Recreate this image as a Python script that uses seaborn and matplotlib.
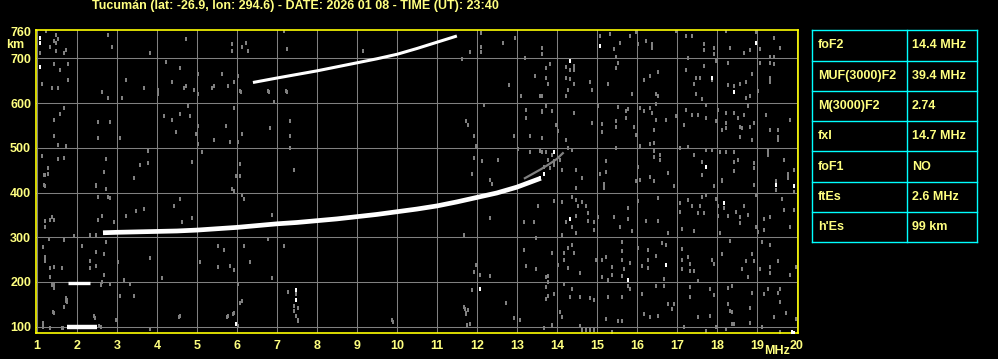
import matplotlib
matplotlib.use('Agg')
import matplotlib.pyplot as plt
import pandas as pd
import seaborn as sns

# ionogram traces (MHz, km)
f2_freq = [2.65, 3.0, 3.5, 4.0, 4.5, 5.0, 5.5, 6.0, 6.5, 7.0, 7.5, 8.0,
           8.5, 9.0, 9.5, 10.0, 10.5, 11.0, 11.5, 12.0, 12.5, 13.0, 13.3, 13.6]
f2_height = [310, 311, 312, 313, 314, 316, 319, 322, 326, 330, 333, 337,
             341, 346, 351, 357, 363, 370, 379, 389, 399, 412, 422, 432]
f2_tail_freq = [13.2, 13.4, 13.6, 13.8, 14.0, 14.15]
f2_tail_height = [432, 442, 452, 463, 475, 488]
hop2_freq = [6.4, 7.0, 7.5, 8.0, 8.5, 9.0, 9.5, 10.0, 10.5, 11.0, 11.5]
hop2_height = [646, 656, 664, 672, 681, 690, 699, 709, 722, 736, 750]
es_freq = [1.75, 2.0, 2.25, 2.5]
es_height = [100, 100, 100, 100]
es2_freq = [1.78, 2.05, 2.32]
es2_height = [197, 197, 197]

# isolated bright echoes
white_dots = [(1.08, 745), (1.08, 734), (1.08, 680), (15.08, 728), (18.98, 735),
              (14.33, 693), (17.88, 657), (18.43, 625), (13.93, 490), (13.68, 441),
              (13.58, 433), (17.73, 456), (14.33, 340), (18.18, 376), (19.93, 414),
              (19.48, 416), (16.73, 237), (15.78, 205), (19.88, 87), (12.08, 184),
              (7.48, 183), (7.48, 160), (5.98, 106), (19.93, 86)]

# background noise echoes
gray_upper_left = [
    (1.08, 712), (1.23, 762), (1.48, 753), (1.43, 739), (1.53, 744), (1.48, 735),
    (1.33, 726), (1.48, 717), (1.73, 719), (1.68, 713), (2.78, 753), (2.88, 726),
    (3.83, 713), (4.73, 744), (5.88, 731), (5.88, 717), (6.23, 735), (6.13, 726),
    (6.28, 717), (1.43, 688), (1.78, 688), (1.58, 675), (1.78, 652), (1.13, 643),
    (1.38, 634), (1.53, 634), (2.63, 625), (2.78, 611), (3.13, 611), (3.23, 652),
    (3.68, 634), (4.03, 630), (4.03, 620), (4.23, 692), (4.38, 647), (4.58, 678),
    (4.68, 634), (4.73, 639), (4.93, 629), (5.03, 665), (5.03, 620), (5.38, 634),
    (5.43, 639), (5.63, 665), (5.78, 639), (5.93, 647), (6.03, 660), (6.08, 626),
    (6.78, 626), (6.93, 602), (1.68, 589), (1.58, 576), (1.43, 562), (1.43, 527),
    (1.53, 506), (1.73, 503), (2.53, 558), (2.83, 558), (2.53, 522), (3.08, 522),
    (4.18, 570), (4.38, 562), (4.58, 576), (4.78, 593), (4.83, 571), (4.48, 535),
    (5.03, 549), (4.98, 531), (5.03, 509), (5.43, 517), (5.73, 549), (5.83, 513),
    (6.03, 513), (6.13, 531), (5.93, 590), (6.83, 544), (1.13, 482), (1.28, 455),
    (1.18, 440), (1.28, 441), (1.53, 474), (1.68, 477), (1.18, 416), (2.73, 474),
    (2.68, 446), (2.48, 416), (3.43, 433), (3.58, 461), (3.78, 492), (3.78, 466),
    (4.88, 468), (5.13, 491), (6.08, 464), (5.98, 438), (6.08, 438), (1.2, 439),
]
gray_middle = [
    (7.18, 762), (7.24, 721), (9.14, 716), (12.1, 757), (11.84, 715), (12.1, 725),
    (12.1, 715), (6.09, 625), (6.79, 625), (7.24, 625), (11.64, 698), (7.23, 626),
    (7.33, 559), (7.33, 527), (7.33, 499), (7.43, 451), (11.73, 559), (11.78, 552),
    (11.93, 527), (11.98, 503), (11.93, 477), (12.13, 470), (12.18, 595), (12.53, 472),
    (11.88, 442), (12.33, 429), (12.38, 418), (12.93, 527), (13.03, 497), (13.23, 585),
    (13.23, 567), (13.33, 527), (13.33, 490), (13.58, 616), (13.63, 581), (13.73, 594),
    (13.63, 522), (13.58, 492), (13.78, 473), (12.65, 735), (12.95, 745), (13.2, 700),
    (13.45, 660), (12.8, 640), (13.1, 615), (7.18, 280), (7.28, 177), (9.88, 116),
    (11.98, 239), (11.93, 222), (12.08, 216), (12.33, 213), (11.88, 181), (12.73, 153),
    (11.68, 144), (11.78, 138), (11.73, 129), (12.93, 119), (13.08, 116), (11.83, 105),
    (12.33, 342), (11.68, 306), (13.53, 369), (13.18, 333), (13.43, 333), (13.48, 298),
    (13.18, 272), (13.23, 235), (13.48, 228), (13.78, 213), (13.78, 201), (13.78, 168),
    (7.48, 172), (7.43, 146), (7.43, 134), (7.53, 142), (7.48, 123), (7.53, 112),
    (9.89, 111), (11.7, 140), (11.72, 130), (11.76, 104),
]
gray_upper_right = [
    (15.08, 750), (15.33, 754), (15.98, 758), (15.83, 749), (15.58, 735), (15.43, 720),
    (16.03, 732), (16.23, 738), (16.38, 733), (16.38, 723), (16.98, 762), (17.23, 749),
    (17.38, 749), (17.68, 733), (17.68, 718), (17.93, 724), (17.93, 709), (18.33, 724),
    (18.23, 762), (18.68, 713), (18.83, 718), (18.98, 758), (19.08, 720), (19.43, 745),
    (19.58, 723), (13.63, 723), (13.63, 709), (13.83, 687), (13.73, 679), (14.23, 681),
    (14.43, 683), (14.43, 675), (14.33, 673), (13.73, 657), (14.23, 657), (14.33, 653),
    (14.43, 643), (14.83, 648), (14.88, 630), (14.23, 615), (14.28, 630), (13.78, 643),
    (15.48, 702), (15.53, 690), (15.48, 679), (15.28, 643), (16.18, 651), (16.33, 661),
    (16.53, 670), (16.48, 621), (16.53, 615), (15.88, 621), (17.23, 675), (17.28, 700),
    (17.43, 643), (17.48, 657), (17.58, 657), (17.48, 621), (17.63, 608), (17.68, 683),
    (17.88, 651), (17.98, 694), (18.28, 690), (18.28, 640), (18.43, 638), (18.58, 643),
    (18.73, 648), (18.88, 666), (18.83, 615), (18.73, 612), (19.03, 627), (19.08, 690),
    (19.33, 703), (19.33, 690), (19.43, 703), (19.43, 688), (19.33, 657), (19.33, 648),
    (13.63, 615), (13.73, 594), (13.63, 582), (13.88, 582), (14.43, 578), (13.98, 552),
    (14.03, 537), (14.23, 518), (13.63, 522), (15.03, 594), (15.53, 591), (15.73, 583),
    (15.78, 587), (15.73, 567), (16.08, 588), (16.18, 582), (16.33, 588), (16.48, 597),
    (16.38, 578), (16.48, 563), (16.73, 563), (15.48, 559), (15.48, 546), (15.13, 553),
    (15.13, 535), (14.88, 555), (15.93, 546), (15.98, 529), (16.43, 540), (16.33, 508),
    (16.43, 510), (16.98, 570), (17.18, 552), (17.23, 585), (17.38, 573), (17.53, 573),
    (17.73, 595), (17.73, 567), (18.03, 585), (17.98, 559), (18.13, 540), (18.23, 578),
    (18.23, 555), (18.23, 544), (18.43, 578), (18.53, 567), (18.58, 546), (18.68, 573),
    (18.63, 544), (18.58, 525), (18.83, 546), (18.78, 594), (18.88, 518), (18.93, 555),
    (19.23, 573), (19.33, 540), (19.53, 540), (19.53, 525), (19.53, 518), (19.83, 563),
    (13.63, 490), (13.73, 490), (13.88, 483), (13.93, 471), (14.08, 473), (13.68, 458),
    (13.83, 454), (13.93, 462), (14.13, 450), (14.38, 495), (14.28, 499), (14.48, 450),
    (14.63, 432), (15.23, 471), (15.08, 441), (15.23, 445), (15.48, 499), (16.03, 458),
    (16.08, 503), (16.08, 428), (15.98, 426), (16.43, 492), (16.43, 480), (16.58, 484),
    (16.58, 473), (16.33, 435), (16.43, 426), (16.78, 443), (17.08, 499), (17.28, 501),
    (17.43, 484), (17.63, 468), (17.63, 439), (17.73, 495), (17.88, 495), (18.08, 490),
    (18.23, 490), (18.43, 490), (18.43, 469), (18.43, 448), (18.53, 473), (18.13, 428),
    (18.93, 466), (18.93, 454), (19.28, 492), (19.28, 483), (19.48, 426), (19.68, 473),
    (19.78, 441), (19.78, 433), (19.93, 450),
]
gray_lower_right = [
    (15.18, 420), (15.18, 410), (14.48, 410), (15.98, 425), (16.43, 426), (16.93, 414),
    (17.93, 414), (18.13, 425), (18.93, 417), (19.48, 405), (19.93, 402), (13.93, 382),
    (14.13, 378), (14.38, 391), (14.48, 384), (14.53, 369), (14.63, 378), (14.73, 369),
    (14.78, 355), (14.48, 348), (14.23, 333), (14.38, 324), (14.13, 305), (14.48, 309),
    (14.78, 337), (14.93, 333), (14.93, 316), (15.03, 346), (15.43, 346), (15.58, 324),
    (15.78, 365), (15.78, 340), (15.88, 315), (16.03, 382), (16.23, 337), (16.53, 387),
    (16.53, 337), (16.78, 310), (17.08, 376), (17.08, 357), (17.13, 318), (17.28, 384),
    (17.38, 369), (17.43, 315), (17.53, 354), (17.63, 391), (17.58, 369), (17.68, 355),
    (17.73, 395), (17.98, 385), (18.03, 369), (18.03, 348), (18.18, 365), (18.28, 348),
    (18.08, 309), (18.48, 357), (18.58, 346), (18.58, 331), (18.68, 369), (18.78, 350),
    (18.98, 395), (18.98, 324), (19.03, 312), (19.18, 340), (19.18, 316), (19.33, 346),
    (19.63, 385), (19.68, 360), (19.83, 324), (19.93, 361), (13.88, 265), (14.18, 265),
    (14.28, 275), (14.38, 282), (14.18, 250), (14.28, 232), (14.03, 237), (14.58, 220),
    (14.43, 265), (14.98, 249), (15.13, 249), (15.23, 256), (15.13, 211), (15.38, 234),
    (15.38, 215), (15.28, 205), (15.63, 290), (15.63, 270), (15.63, 249), (15.68, 230),
    (15.83, 243), (15.63, 213), (16.03, 275), (16.13, 235), (16.28, 271), (16.28, 249),
    (16.28, 232), (16.48, 258), (16.63, 286), (16.73, 282), (16.68, 207), (16.68, 192),
    (17.13, 273), (17.13, 249), (17.13, 230), (17.28, 255), (17.33, 241), (17.33, 224),
    (17.43, 224), (17.53, 202), (17.88, 249), (17.93, 241), (18.13, 262), (18.33, 292),
    (18.63, 228), (18.73, 247), (18.78, 211), (18.88, 262), (18.93, 247), (19.08, 228),
    (19.13, 290), (19.33, 282), (19.33, 234), (19.33, 219), (19.53, 247), (19.83, 215),
    (19.98, 234), (13.73, 210), (13.73, 189), (13.73, 162), (13.93, 174), (14.18, 196),
    (14.38, 185), (14.33, 166), (14.58, 167), (14.83, 164), (14.93, 160), (15.28, 166),
    (15.63, 167), (15.78, 192), (15.83, 185), (16.13, 174), (16.48, 192), (16.78, 150),
    (16.93, 150), (16.88, 140), (17.33, 189), (17.33, 166), (17.83, 185), (17.93, 170),
    (18.28, 187), (18.38, 190), (18.28, 150), (18.33, 135), (18.38, 133), (18.43, 106),
    (18.83, 142), (18.88, 175), (19.18, 172), (19.28, 185), (19.58, 185), (19.58, 155),
    (19.53, 175), (19.73, 130), (19.98, 117), (14.08, 132), (14.13, 122), (13.88, 104),
    (13.68, 97), (14.58, 102), (14.63, 92), (14.73, 92), (14.83, 92), (14.93, 92),
    (15.23, 117), (15.53, 112), (15.63, 113), (15.38, 89), (16.18, 128), (16.33, 121),
    (16.53, 125), (17.18, 100), (17.53, 122), (17.83, 125), (17.73, 91), (17.98, 100),
    (18.23, 95), (18.38, 105), (18.83, 108), (19.13, 100), (19.43, 122), (19.58, 89),
]
gray_lower_left = [
    (2.48, 415), (2.73, 408), (2.53, 391), (2.78, 391), (2.83, 387), (3.48, 358),
    (3.68, 364), (4.43, 369), (4.58, 386), (2.63, 347), (2.53, 338), (2.93, 333),
    (3.23, 347), (4.88, 342), (4.63, 333), (5.88, 408), (5.93, 404), (6.13, 395),
    (6.18, 386), (6.88, 350), (2.33, 306), (2.48, 306), (1.93, 302), (1.68, 293),
    (2.73, 289), (2.13, 280), (2.48, 267), (2.68, 262), (2.33, 247), (2.48, 236),
    (2.33, 231), (2.68, 215), (3.03, 245), (3.83, 253), (4.13, 209), (3.18, 205),
    (3.33, 195), (2.63, 200), (2.83, 195), (1.63, 232), (5.08, 245), (5.53, 280),
    (5.68, 271), (5.83, 236), (5.93, 227), (5.53, 234), (6.18, 280), (6.33, 245),
    (6.03, 195), (6.88, 209), (7.18, 280), (6.78, 296), (1.73, 165), (1.73, 158),
    (1.68, 145), (3.08, 169), (3.43, 169), (2.43, 123), (2.98, 114), (4.58, 123),
    (6.13, 158), (5.78, 123), (5.93, 131), (7.28, 178), (7.53, 114), (3.83, 95),
    (6.03, 102), (1.2, 414), (1.33, 338), (1.43, 338), (1.38, 345), (1.2, 336),
    (1.2, 324), (1.3, 296), (1.15, 279), (1.2, 256), (1.2, 247), (1.32, 231),
    (1.42, 233), (1.32, 211), (1.42, 193), (1.42, 186), (1.37, 193), (1.75, 160),
    (1.75, 157), (1.42, 131), (1.15, 109), (1.14, 100), (1.33, 97), (1.62, 97),
    (1.66, 97), (1.41, 133), (1.74, 156), (2.45, 119), (3.0, 115), (4.54, 121),
    (5.74, 121), (5.89, 128), (6.08, 152), (2.6, 99), (2.55, 102), (2.6, 194),
]

params = ['foF2', 'MUF(3000)F2', 'M(3000)F2', 'fxI', 'foF1', 'ftEs', "h'Es"]
values = ['14.4 MHz', '39.4 MHz', '2.74', '14.7 MHz', 'NO', '2.6 MHz', '99 km']

freq_ticks = list(range(1, 21))
height_ticks = [100, 200, 300, 400, 500, 600, 700, 760]
title = 'Tucumán (lat: -26.9, lon: 294.6) - DATE: 2026 01 08 - TIME (UT): 23:40'

TXT = '#ffff80'
FRAME = '#ffff00'
GRID = '#808080'

plt.rcParams['font.family'] = ['Liberation Sans', 'DejaVu Sans']
plt.rcParams['font.weight'] = 'bold'
plt.rcParams['font.size'] = 9

gray = pd.DataFrame(gray_upper_left + gray_middle + gray_upper_right
                    + gray_lower_right + gray_lower_left, columns=['freq', 'height'])
white = pd.DataFrame(white_dots, columns=['freq', 'height'])

W, H = 998, 359
fig = plt.figure(figsize=(W / 100, H / 100), dpi=100, facecolor='black')
ax = fig.add_axes([36 / W, (H - 333.3) / H, 762 / W, 303.8 / H], facecolor='black')

dot = [(-1, -1.5), (1, -1.5), (1, 1.5), (-1, 1.5)]
sns.scatterplot(data=gray, x='freq', y='height', ax=ax, color=GRID, marker=dot,
                s=7, linewidth=0, legend=False, zorder=2)
sns.scatterplot(data=white, x='freq', y='height', ax=ax, color='white', marker=dot,
                s=7, linewidth=0, legend=False, zorder=3)

sns.lineplot(x=f2_tail_freq, y=f2_tail_height, ax=ax, color=GRID, lw=1.6,
             sort=False, estimator=None, zorder=3)
sns.lineplot(x=f2_freq, y=f2_height, ax=ax, color='white', lw=3.4,
             sort=False, estimator=None, zorder=4, solid_capstyle='butt')
sns.lineplot(x=hop2_freq, y=hop2_height, ax=ax, color='white', lw=2.2,
             sort=False, estimator=None, zorder=4, solid_capstyle='butt')
sns.lineplot(x=es_freq, y=es_height, ax=ax, color='white', lw=3.2,
             sort=False, estimator=None, zorder=4, solid_capstyle='butt')
sns.lineplot(x=es2_freq, y=es2_height, ax=ax, color='white', lw=2.4,
             sort=False, estimator=None, zorder=4, solid_capstyle='butt')

ax.set_xlim(0.975, 20.03)
ax.set_ylim(85.2, 764.5)
ax.set_xticks(freq_ticks)
ax.set_yticks(height_ticks)
ax.set_xlabel('')
ax.set_ylabel('')
ax.grid(True, color=GRID, lw=0.75)
ax.set_axisbelow(True)
ax.yaxis.get_major_ticks()[-1].gridline.set_visible(False)
ax.tick_params(length=0, colors=TXT, labelsize=9)
ax.tick_params(axis='x', pad=5)
ax.tick_params(axis='y', pad=3.5)
for s in ax.spines.values():
    s.set_color(FRAME)
    s.set_linewidth(1.2)

fig.text(295 / W, 1 - 6.5 / H, title, color=TXT, ha='center', va='center')
fig.text(6 / W, 1 - 44.5 / H, 'km', color=TXT, ha='left', va='center')
fig.text(790 / W, 1 - 351.5 / H, 'MHz', color=TXT, ha='right', va='center')

# parameter table
tab = fig.add_axes([812 / W, (H - 242.3) / H, 165 / W, 212 / H], facecolor='black')
tab.set_xlim(0, 1)
tab.set_ylim(len(params), 0)
tab.axis('off')
for i in range(len(params) + 1):
    tab.axhline(i, color='#00ffff', lw=1.0, clip_on=False)
for xv in [0, 0.576, 1]:
    tab.axvline(xv, color='#00ffff', lw=1.0, clip_on=False)
for i, (p, v) in enumerate(zip(params, values)):
    tab.text(0.036, i + 0.5, p, color=TXT, ha='left', va='center')
    tab.text(0.606, i + 0.5, v, color=TXT, ha='left', va='center')

fig.savefig('out.png', dpi=100, facecolor='black')
